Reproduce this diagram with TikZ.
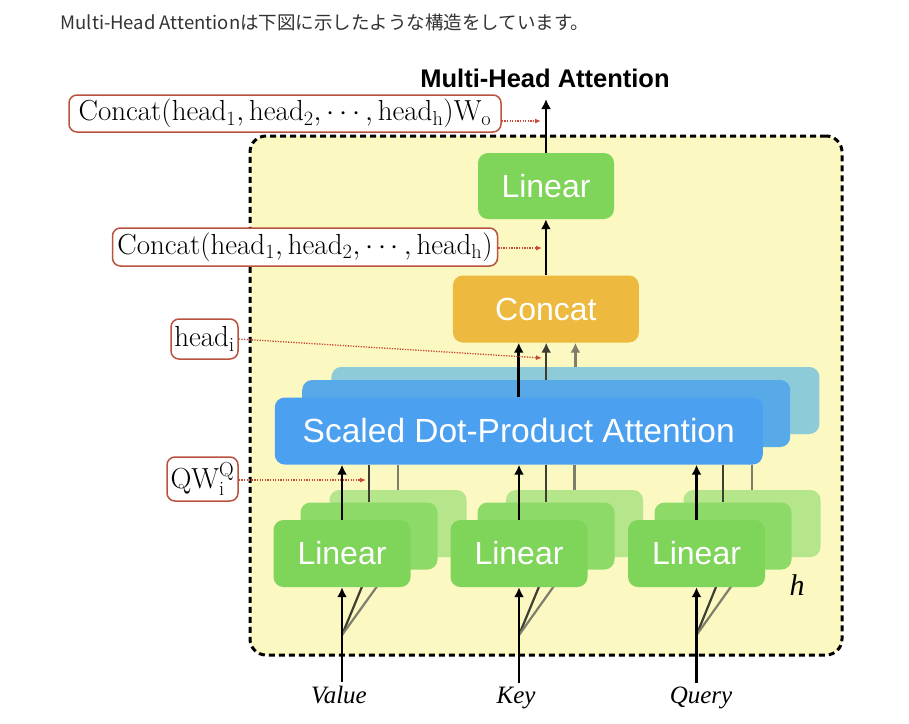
\RequirePackage{fix-cm}
\documentclass[tikz,border=0pt]{standalone}
\usepackage{graphicx}
\usepackage{fontspec}
\newfontfamily\jpfont{Noto Sans CJK JP}
\newfontfamily\diagsans{Liberation Sans}
\newfontfamily\serifit{Liberation Serif}
\usetikzlibrary{arrows.meta,calc}
\definecolor{headgray}{HTML}{333333}
\definecolor{yellowbg}{HTML}{FBF8C2}
\definecolor{greenF}{HTML}{7FD55A}
\definecolor{greenM}{HTML}{8DDA69}
\definecolor{greenB}{HTML}{B6E68C}
\definecolor{orangeC}{HTML}{EDB93E}
\definecolor{blueF}{HTML}{4BA0F0}
\definecolor{blueM}{HTML}{58A9E8}
\definecolor{blueB}{HTML}{8DCBD8}
\definecolor{labred}{HTML}{B9533F}
\definecolor{dotred}{HTML}{C94A35}
\definecolor{darkln}{HTML}{3E3E32}
\definecolor{grayln}{HTML}{7E7E6C}
\newcommand{\labtext}[1]{\scalebox{1.16}{$#1$}}
\pgfdeclarelayer{frame}
\pgfdeclarelayer{fan}
\pgfdeclarelayer{vlines}
\pgfdeclarelayer{upper}
\pgfdeclarelayer{arrowlayer}
\pgfsetlayers{frame,fan,main,vlines,upper,arrowlayer}
\tikzset{
  gbox/.style={rounded corners=10pt, minimum width=137pt, minimum height=67pt, inner sep=0pt, text=white, font=\diagsans\fontsize{32}{36}\selectfont},
  gfront/.style={gbox, fill=greenF},
  gmid/.style={gbox, fill=greenM},
  gback/.style={gbox, fill=greenB},
  bbox/.style={rounded corners=10pt, minimum width=488pt, minimum height=67pt, inner sep=0pt, text=white, font=\diagsans\fontsize{33.5}{38}\selectfont},
  lab/.style={draw=labred, line width=1.5pt, fill=white, rounded corners=8pt, inner sep=0pt, font=\fontsize{25}{30}\selectfont},
  blk/.style={line width=2.8pt, -{Latex[length=10pt,width=10pt]}},
  dk/.style={line width=2.2pt, draw=darkln},
  gy/.style={line width=2.2pt, draw=grayln},
  rdot/.style={draw=dotred, line width=1.3pt, dash pattern=on 1.3pt off 1.3pt, -{Latex[length=6pt,width=5pt]}},
  inlab/.style={font=\serifit\itshape\fontsize{25}{30}\selectfont, anchor=base},
  frm/.style={draw=black, line width=3pt, dash pattern=on 6pt off 4pt, fill=yellowbg, rounded corners=16pt, minimum width=592pt, minimum height=519pt, inner sep=0pt}
}
\begin{document}
\begin{tikzpicture}[x=1pt,y=-1pt]
\begin{pgfonlayer}{frame}
\fill[white] (0,0) rectangle (909,723);
\node[frm] (frame) at (546,395.5) {};
\end{pgfonlayer}
\useasboundingbox (0,0) rectangle (909,723);

\node[anchor=base west, text=headgray, font=\jpfont\fontsize{18.5}{22}\selectfont] (hdr) at (57,29) {Multi-Head Attentionは下図に示したような構造をしています。};
\node[anchor=base, font=\diagsans\bfseries\fontsize{25.5}{30}\selectfont] (title) at (545,87) {Multi-Head Attention};

% linear boxes (back, middle, front)
\node[gback] (l1b) at (398,523.5) {};
\node[gback] (l2b) at (574.5,523.5) {};
\node[gback] (l3b) at (752,523.5) {};
\node[gmid] (l1m) at (369,536) {};
\node[gmid] (l2m) at (546,536) {};
\node[gmid] (l3m) at (723,536) {};
\node[gfront] (l1f) at (342,553.5) {Linear};
\node[gfront] (l2f) at (519,553.5) {Linear};
\node[gfront] (l3f) at (696.5,553.5) {Linear};

\node[font=\serifit\itshape\fontsize{30}{34}\selectfont] (hh) at (797,585) {h};

\begin{pgfonlayer}{upper}
\node[bbox, fill=blueB] (sb) at (575.4,400.5) {};
\node[bbox, fill=blueM] (sm) at (546.2,413.5) {};
\node[bbox, fill=blueF] (sf) at (518.75,431) {Scaled Dot-Product Attention};
\node[gbox, fill=orangeC, minimum width=186pt] (concat) at (545.9,309) {Concat};
\node[gbox, fill=greenF, minimum width=136pt, minimum height=66pt] (lintop) at (546,186) {Linear};
\end{pgfonlayer}

% input labels
\node[inlab] (val) at (339,703) {Value};
\node[inlab] (key) at (516,703) {Key};
\node[inlab] (qry) at (701,703) {Query};

\coordinate (f1) at (342,635);
\coordinate (f2) at (519,635);
\coordinate (f3) at (696.5,635);

\begin{pgfonlayer}{fan}
\draw[dk] (f1) -- (l1m.south);
\draw[gy] (f1) -- (l1b.south);
\draw[dk] (f2) -- (l2m.south);
\draw[gy] (f2) -- (l2b.south);
\draw[dk] (f3) -- (l3m.south);
\draw[gy] (f3) -- (l3b.south);
\end{pgfonlayer}

\begin{pgfonlayer}{vlines}
\draw[dk] (l1m.north) -- (l1m.north |- sf.south);
\draw[gy] (l1b.north) -- (l1b.north |- sf.south);
\draw[dk] (l2m.north) -- (l2m.north |- sf.south);
\draw[gy] (l2b.north) -- (l2b.north |- sf.south);
\draw[dk] (l3m.north) -- (l3m.north |- sf.south);
\draw[gy] (l3b.north) -- (l3b.north |- sf.south);
\end{pgfonlayer}

\begin{pgfonlayer}{arrowlayer}
\draw[blk] (l1f.south |- val.north) -- (l1f.south);
\draw[blk] (l2f.south |- key.north) -- (l2f.south);
\draw[blk] (l3f.south |- qry.north) -- (l3f.south);
\draw[blk] (l1f.north) -- (l1f.north |- sf.south);
\draw[blk] (l2f.north) -- (l2f.north |- sf.south);
\draw[blk] (l3f.north) -- (l3f.north |- sf.south);
\draw[blk] (sf.north) -- (sf.north |- concat.south);
\draw[blk, draw=darkln, line width=2.4pt] (sm.north) -- (sm.north |- concat.south);
\draw[blk, draw=grayln, line width=2.2pt] (sb.north) -- (sb.north |- concat.south);
\draw[blk] (concat.north) -- (concat.north |- lintop.south);
\coordinate (topend) at (546,99);
\draw[blk] (lintop.north) -- (topend);

\node[lab, minimum width=432pt, minimum height=37pt] (c1) at (285,113.5) {\labtext{\mathrm{Concat}(\mathrm{head}_1, \mathrm{head}_2, \cdots, \mathrm{head}_\mathrm{h})\mathrm{W}_\mathrm{o}}};
\node[lab, minimum width=385pt, minimum height=38pt] (c2) at (305,247) {\labtext{\mathrm{Concat}(\mathrm{head}_1, \mathrm{head}_2, \cdots, \mathrm{head}_\mathrm{h})}};
\node[lab, minimum width=67pt, minimum height=40pt] (hi) at (204.5,339) {\labtext{\mathrm{head}_\mathrm{i}}};
\node[lab, minimum width=71pt, minimum height=44pt] (qw) at (202.5,479) {\labtext{\mathrm{QW}_\mathrm{i}^\mathrm{Q}}};

\coordinate (e1) at (541,121);
\coordinate (e2) at (542,248);
\coordinate (e3) at (542,358);
\coordinate (e4) at (366,480);
\draw[rdot] (c1.east |- e1) -- (e1);
\draw[rdot] (c2.east |- e2) -- (e2);
\draw[rdot] (hi.east) -- (e3);
\draw[rdot] (qw.east |- e4) -- (e4);
\end{pgfonlayer}
\end{tikzpicture}
\end{document}
